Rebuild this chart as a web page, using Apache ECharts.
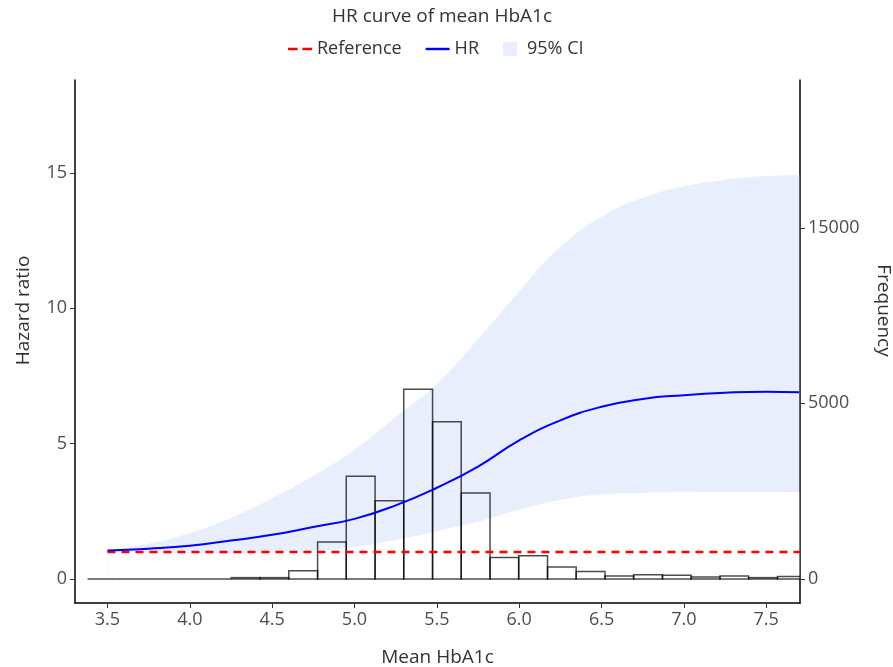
<!DOCTYPE html>
<html>
<head>
<meta charset="utf-8">
<script src="https://cdn.jsdelivr.net/npm/echarts@6/dist/echarts.min.js"></script>
<style>
html,body{margin:0;padding:0;background:#fff;}
#chart{width:893px;height:667px;}
</style>
</head>
<body>
<div id="chart"></div>
<script>
// ---- data ----
const xCurve = [3.5, 3.75, 4.0, 4.25, 4.5, 4.75, 5.0, 5.25, 5.5, 5.75, 6.0, 6.25, 6.5, 6.75, 7.0, 7.25, 7.5, 7.7];
const hrValues = [1.05, 1.12, 1.23, 1.42, 1.63, 1.92, 2.22, 2.72, 3.37, 4.15, 5.12, 5.86, 6.36, 6.65, 6.79, 6.88, 6.92, 6.90];
const ciLower = [1.02, 0.96, 0.94, 0.94, 0.97, 1.04, 1.18, 1.44, 1.76, 2.12, 2.56, 2.92, 3.12, 3.18, 3.20, 3.21, 3.21, 3.21];
const ciUpper = [1.06, 1.30, 1.70, 2.26, 2.98, 3.81, 4.77, 5.98, 7.20, 8.85, 10.62, 12.26, 13.38, 14.08, 14.50, 14.74, 14.88, 14.92];
const referenceHR = 1;
const referenceX = [3.5, 7.705];
// histogram bin edges (Mean HbA1c) and bar heights drawn on the hazard-ratio scale
const binEdges = [3.379, 3.554, 3.728, 3.903, 4.077, 4.252, 4.427, 4.601, 4.776, 4.950, 5.125, 5.299, 5.474, 5.648, 5.823, 5.997, 6.172, 6.346, 6.521, 6.695, 6.870, 7.044, 7.219, 7.393, 7.568, 7.742];
const histHeightScaled = [0, 0, 0, 0, 0, 0.05, 0.05, 0.30, 1.37, 3.79, 2.89, 7.01, 5.81, 3.18, 0.79, 0.86, 0.44, 0.28, 0.11, 0.16, 0.14, 0.07, 0.11, 0.05, 0.09];
// tick labels
const xTicks = [3.5, 4.0, 4.5, 5.0, 5.5, 6.0, 6.5, 7.0, 7.5];
const hrTicks = [0, 5, 10, 15];
const freqTickLabels = ['0', '5000', '15000'];
const freqTickAt = [0, 6.5, 12.97]; // where the frequency labels sit on the hazard-ratio scale

// ---- build ----
const fontFamily = '"Open Sans", "Noto Sans", sans-serif';
const labelColor = '#4d4d4d';
const bandColor = '#e8eefb';
const hrData = xCurve.map((x, i) => [x, hrValues[i]]);
const lowData = xCurve.map((x, i) => [x, ciLower[i]]);
const upData = xCurve.map((x, i) => [x, ciUpper[i]]);
const histData = histHeightScaled.map((h, i) => [binEdges[i], binEdges[i + 1], h]);
const refData = referenceX.map(x => [x, referenceHR]);

const chart = echarts.init(document.getElementById('chart'), null, {renderer: 'canvas'});
const yMin = -0.887, yMax = 18.43;
chart.setOption({
  animation: false,
  backgroundColor: '#fff',
  textStyle: {fontFamily: fontFamily},
  title: {
    text: 'HR curve of mean HbA1c',
    left: 437, top: 2, textAlign: 'center',
    textStyle: {fontSize: 19, fontWeight: 'normal', color: '#333', fontFamily: fontFamily}
  },
  legend: {
    top: 35, left: 283,
    itemWidth: 24, itemHeight: 14, itemGap: 24,
    textStyle: {fontSize: 18, color: '#333', fontFamily: fontFamily},
    data: [
      {name: 'Reference', icon: 'path://M0,0H8V2H0Z M12,0H20V2H12Z', itemStyle: {color: '#ff0000'}},
      {name: 'HR', icon: 'path://M0,0H20V2H0Z', itemStyle: {color: '#0000ff'}},
      {name: '95% CI', icon: 'path://M0,0H10V10H0Z', itemStyle: {color: bandColor}}
    ]
  },
  grid: {left: 75, right: 93, top: 80, bottom: 64, containLabel: false, outerBoundsMode: 'none'},
  xAxis: {
    type: 'value', min: 3.303, max: 7.705,
    name: 'Mean HbA1c', nameLocation: 'middle', nameGap: 45,
    nameTextStyle: {fontSize: 19, color: '#333'},
    splitLine: {show: false},
    axisLine: {show: true, onZero: false, lineStyle: {color: '#000', width: 1.5}},
    axisTick: {show: true, length: 5, customValues: xTicks, lineStyle: {color: '#333'}},
    axisLabel: {customValues: xTicks, fontSize: 18, color: labelColor, margin: 8,
      formatter: v => v.toFixed(1)}
  },
  yAxis: [
    {
      type: 'value', min: yMin, max: yMax, position: 'left',
      name: 'Hazard ratio', nameLocation: 'middle', nameGap: 42,
      nameTextStyle: {fontSize: 19, color: '#333', padding: [0, 0, 0, 62]},
      splitLine: {show: false},
      axisLine: {show: true, onZero: false, lineStyle: {color: '#000', width: 1.5}},
      axisTick: {show: true, length: 5, customValues: hrTicks, lineStyle: {color: '#333'}},
      axisLabel: {customValues: hrTicks, fontSize: 18, color: labelColor, margin: 8}
    },
    {
      type: 'value', min: yMin, max: yMax, position: 'right',
      name: 'Frequency', nameLocation: 'middle', nameGap: 74, nameRotate: -90,
      nameTextStyle: {fontSize: 19, color: '#333', padding: [0, 62, 0, 0]},
      splitLine: {show: false},
      axisLine: {show: true, onZero: false, lineStyle: {color: '#000', width: 1.5}},
      axisTick: {show: true, length: 5, customValues: freqTickAt, lineStyle: {color: '#333'}},
      axisLabel: {customValues: freqTickAt, fontSize: 18, color: labelColor, margin: 8,
        formatter: v => {
          let best = 0;
          freqTickAt.forEach((t, i) => { if (Math.abs(t - v) < Math.abs(freqTickAt[best] - v)) best = i; });
          return freqTickLabels[best];
        }}
    }
  ],
  series: [
    {
      name: '95% CI', type: 'line', data: upData, smooth: true,
      symbol: 'none', lineStyle: {width: 0, opacity: 0}, itemStyle: {color: bandColor},
      areaStyle: {color: bandColor, opacity: 1}, silent: true, z: 1
    },
    {
      name: 'ciLow', type: 'line', data: lowData, smooth: true,
      symbol: 'none', lineStyle: {width: 0, opacity: 0}, itemStyle: {color: '#fff'},
      areaStyle: {color: '#fff', opacity: 1}, silent: true, z: 1
    },
    {
      name: 'Histogram', type: 'custom', data: histData, clip: true, z: 2,
      renderItem: (params, api) => {
        const p0 = api.coord([api.value(0), api.value(2)]);
        const p1 = api.coord([api.value(1), 0]);
        return {
          type: 'rect',
          shape: {x: p0[0], y: p0[1], width: p1[0] - p0[0], height: p1[1] - p0[1]},
          style: {fill: 'none', stroke: 'rgba(0,0,0,0.7)', lineWidth: 1.5}
        };
      }
    },
    {
      name: 'Reference', type: 'line', data: refData, symbol: 'none', z: 3,
      itemStyle: {color: '#ff0000'},
      lineStyle: {color: '#ff0000', width: 2.5, type: [8, 6]}
    },
    {
      name: 'HR', type: 'line', data: hrData, smooth: true, symbol: 'none', z: 4,
      itemStyle: {color: '#0000ff'},
      lineStyle: {color: '#0000ff', width: 2}
    }
  ]
});
</script>
</body>
</html>
